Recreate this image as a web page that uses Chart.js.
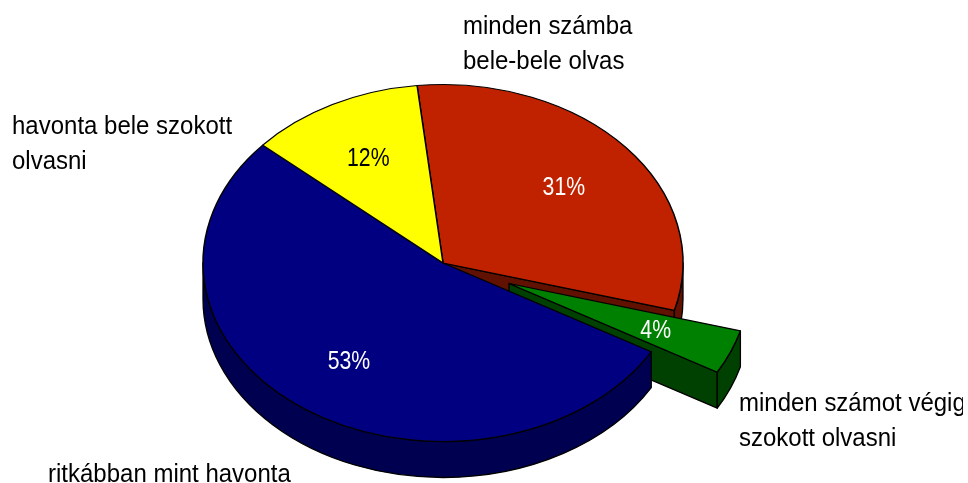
<!DOCTYPE html>
<html>
<head>
<meta charset="utf-8">
<style>
html,body{margin:0;padding:0;background:#fff}
canvas{display:block}
</style>
<script src="https://cdn.jsdelivr.net/npm/chart.js@4/dist/chart.umd.min.js"></script>
</head>
<body>
<div style="width:963px;height:483px"><canvas id="c" width="963" height="483"></canvas></div>
<script>
const categories = ["minden számba bele-bele olvas", "minden számot végig szokott olvasni", "ritkábban mint havonta", "havonta bele szokott olvasni"];
const values = [31, 4, 53.2, 11.8];
const topColors = ["#C02200", "#008000", "#000080", "#FFFF00"];
const sideColors = ["#601100", "#004000", "#000050", "#808000"];
const percentColors = ["#FFFFFF", "#FFFFFF", "#FFFFFF", "#000000"];
const categoryLines = [
  {lines: ["minden számba", "bele-bele olvas"], x: 463, y: 34},
  {lines: ["minden számot végig", "szokott olvasni"], x: 739, y: 411},
  {lines: ["ritkábban mint havonta"], x: 48, y: 482},
  {lines: ["havonta bele szokott", "olvasni"], x: 12, y: 134}
];
const squash = 178.5 / 240, depth = 36, explodeIndex = 1, explodeDist = 71.5;
const labelFont = 26, labelSqueeze = 0.923, pctFont = 25, pctSqueeze = 0.85, lineGap = 34.5;

function explodeOf(arc, i) {
  if (i !== explodeIndex) return {dx: 0, dy: 0};
  const m = (arc.startAngle + arc.endAngle) / 2;
  return {dx: Math.cos(m) * explodeDist, dy: Math.sin(m) * explodeDist};
}
function drawWalls(ctx, arc, i) {
  const {x, y, outerRadius: r, startAngle: s0, endAngle: e0} = arc;
  const ex = explodeOf(arc, i);
  const cx = x + ex.dx, cy = y + ex.dy * squash;
  const ry = r * squash;
  ctx.save();
  ctx.fillStyle = sideColors[i];
  ctx.strokeStyle = "#000";
  ctx.lineWidth = 1.3;
  ctx.lineJoin = "round";
  if (Math.cos(e0) > 0) {
    ctx.beginPath();
    ctx.moveTo(cx, cy);
    ctx.lineTo(cx + r * Math.cos(e0), cy + ry * Math.sin(e0));
    ctx.lineTo(cx + r * Math.cos(e0), cy + ry * Math.sin(e0) + depth);
    ctx.lineTo(cx, cy + depth);
    ctx.closePath();
    ctx.fill(); ctx.stroke();
  }
  const from = Math.max(s0, 0), to = Math.min(e0, Math.PI);
  if (to > from) {
    ctx.beginPath();
    ctx.ellipse(cx, cy, r, ry, 0, from, to);
    ctx.ellipse(cx, cy + depth, r, ry, 0, to, from, true);
    ctx.closePath();
    ctx.fill(); ctx.stroke();
  }
  ctx.restore();
}
function drawTop(ctx, arc, i) {
  const ex = explodeOf(arc, i);
  ctx.save();
  ctx.translate(arc.x, arc.y);
  ctx.scale(1, squash);
  ctx.translate(-arc.x + ex.dx, -arc.y + ex.dy);
  arc.draw(ctx);
  ctx.restore();
}
function squeezedText(ctx, text, x, y, sx, align) {
  ctx.save();
  ctx.translate(x, y);
  ctx.scale(sx, 1);
  ctx.textAlign = align;
  ctx.fillText(text, 0, 0);
  ctx.restore();
}
const pie3d = {
  id: "pie3d",
  beforeDatasetDraw(chart, args) {
    const ctx = chart.ctx;
    args.meta.data.forEach((arc, i) => {
      drawWalls(ctx, arc, i);
      drawTop(ctx, arc, i);
    });
    return false;
  },
  afterDraw(chart) {
    const ctx = chart.ctx;
    const arcs = chart.getDatasetMeta(0).data;
    const total = values.reduce((a, b) => a + b, 0);
    ctx.save();
    ctx.textBaseline = "alphabetic";
    ctx.font = pctFont + 'px "Liberation Sans", Arial, sans-serif';
    arcs.forEach((arc, i) => {
      const ex = explodeOf(arc, i);
      const m = (arc.startAngle + arc.endAngle) / 2;
      const f = arc.outerRadius * 2 / 3;
      const px = arc.x + ex.dx + Math.cos(m) * f;
      const py = arc.y + (ex.dy + Math.sin(m) * f) * squash;
      ctx.fillStyle = percentColors[i];
      squeezedText(ctx, Math.round(values[i] / total * 100) + "%", px - 1, py + 9, pctSqueeze, "center");
    });
    ctx.fillStyle = "#000";
    ctx.font = labelFont + 'px "Liberation Sans", Arial, sans-serif';
    categoryLines.forEach(c => {
      c.lines.forEach((t, k) => squeezedText(ctx, t, c.x, c.y + k * lineGap, labelSqueeze, "left"));
    });
    ctx.restore();
  }
};
new Chart(document.getElementById("c"), {
  type: "pie",
  data: {
    labels: categories,
    datasets: [{
      data: values,
      backgroundColor: topColors,
      borderColor: "#000",
      borderWidth: 1.5
    }]
  },
  options: {
    responsive: false,
    animation: false,
    devicePixelRatio: 1,
    rotation: -6.2,
    radius: 240,
    layout: {padding: {left: 0, right: 77, top: 43, bottom: 0}},
    plugins: {legend: {display: false}, tooltip: {enabled: false}, title: {display: false}}
  },
  plugins: [pie3d]
});
</script>
</body>
</html>
